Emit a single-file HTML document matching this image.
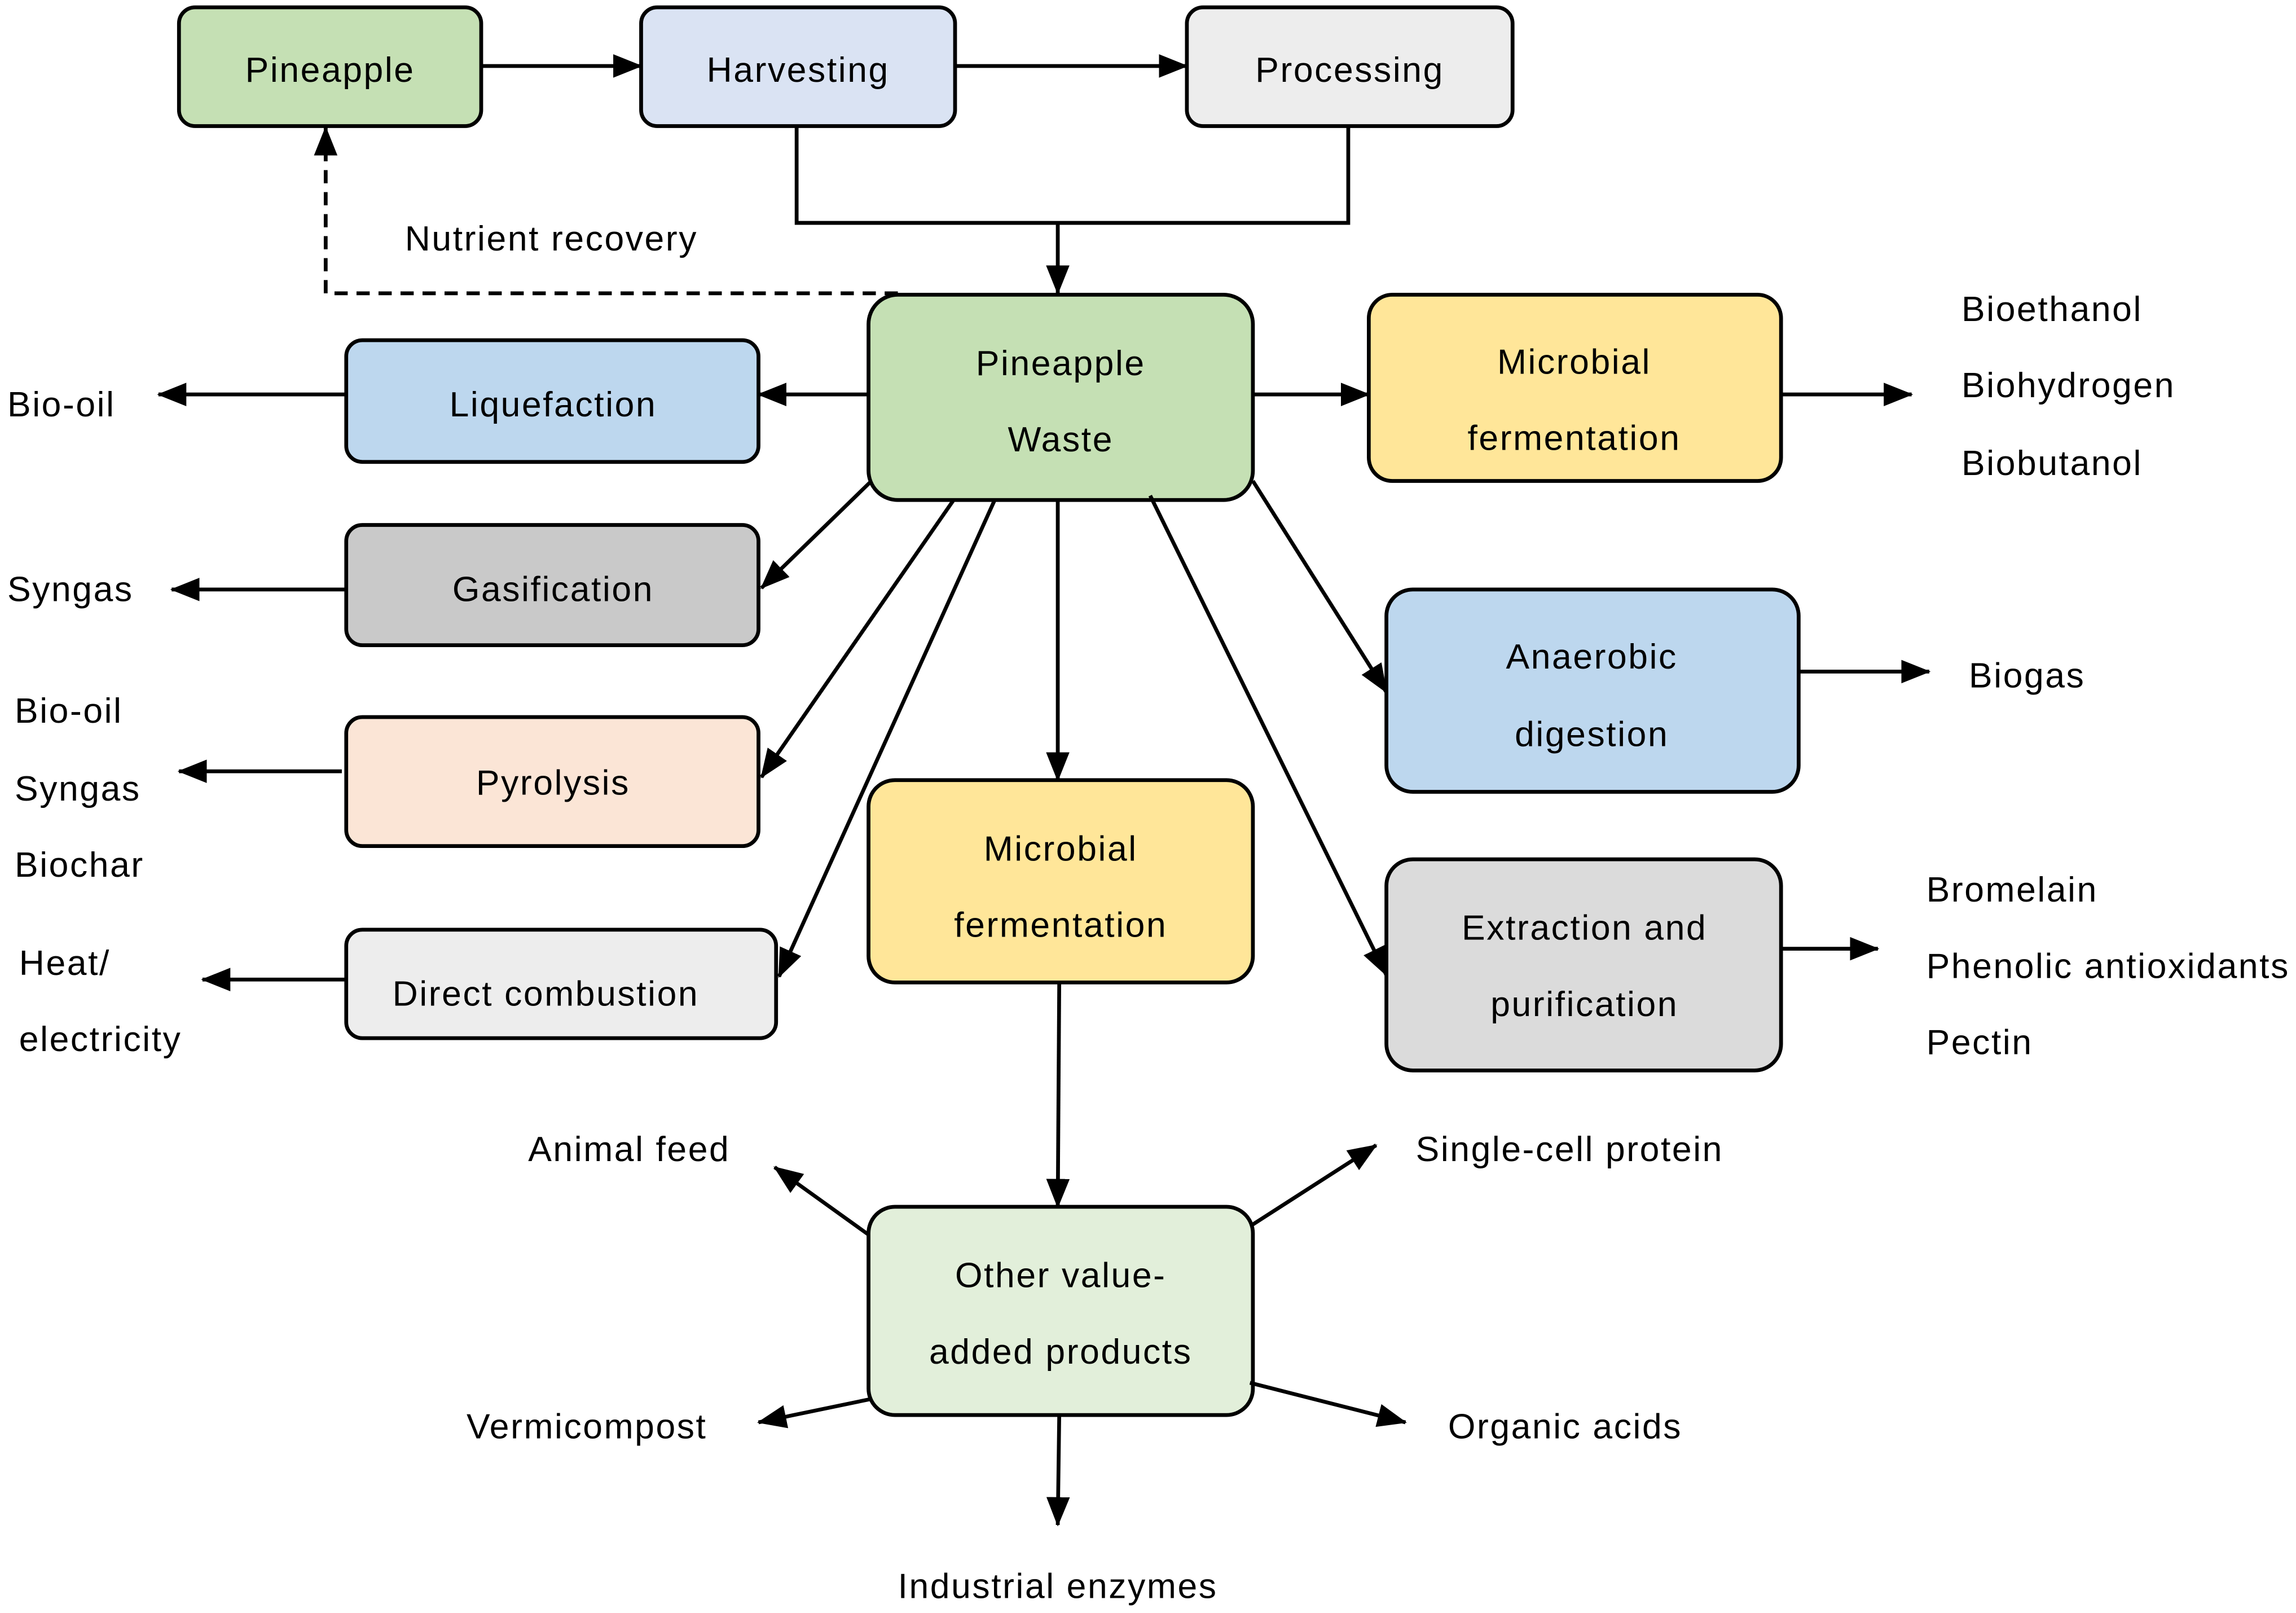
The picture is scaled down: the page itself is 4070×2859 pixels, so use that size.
<!DOCTYPE html>
<html><head><meta charset="utf-8"><style>
html,body{margin:0;padding:0;background:#fff}
svg{display:block}
text{font-family:"Liberation Sans",sans-serif;font-size:24px;letter-spacing:1px;fill:#000}
</style></head><body>
<svg width="4070" height="2859" viewBox="0 0 1565 1100" preserveAspectRatio="none" xmlns="http://www.w3.org/2000/svg">
<defs>
<marker id="a" markerUnits="userSpaceOnUse" markerWidth="20" markerHeight="18" refX="19" refY="8" orient="auto">
<path d="M0,0 L20,8 L0,16 Z" fill="#000"/>
</marker>
</defs>
<g stroke="#000" stroke-width="2.6">
<rect x="122" y="5" width="206" height="81" rx="11" fill="#c5e0b4"/>
<rect x="437" y="5" width="214" height="81" rx="11" fill="#dae3f3"/>
<rect x="809" y="5" width="222" height="81" rx="11" fill="#ededed"/>
<rect x="592" y="201" width="262" height="140" rx="20" fill="#c5e0b4"/>
<rect x="933" y="201" width="281" height="127" rx="16" fill="#ffe699"/>
<rect x="236" y="232" width="281" height="83" rx="11" fill="#bdd7ee"/>
<rect x="236" y="358" width="281" height="82" rx="11" fill="#c9c9c9"/>
<rect x="236" y="489" width="281" height="88" rx="11" fill="#fbe5d6"/>
<rect x="236" y="634" width="293" height="74" rx="11" fill="#ededed"/>
<rect x="592" y="532" width="262" height="138" rx="18" fill="#ffe699"/>
<rect x="945" y="402" width="281" height="138" rx="18" fill="#bdd7ee"/>
<rect x="945" y="586" width="269" height="144" rx="18" fill="#dbdbdb"/>
<rect x="592" y="823" width="262" height="142" rx="18" fill="#e2efda"/>
</g>
<g stroke="#000" stroke-width="2.6" fill="none">
<line x1="328" y1="45" x2="437" y2="45" marker-end="url(#a)"/>
<line x1="651" y1="45" x2="809" y2="45" marker-end="url(#a)"/>
<polyline points="543,86 543,152 919,152 919,86"/>
<line x1="721" y1="152" x2="721" y2="200" marker-end="url(#a)"/>
<polyline points="612,200 222,200 222,87" stroke-dasharray="9,6" marker-end="url(#a)"/>
<line x1="854" y1="269" x2="933" y2="269" marker-end="url(#a)"/>
<line x1="1214" y1="269" x2="1303" y2="269" marker-end="url(#a)"/>
<line x1="592" y1="269" x2="517" y2="269" marker-end="url(#a)"/>
<line x1="236" y1="269" x2="108" y2="269" marker-end="url(#a)"/>
<line x1="594" y1="328" x2="519" y2="401" marker-end="url(#a)"/>
<line x1="236" y1="402" x2="117" y2="402" marker-end="url(#a)"/>
<line x1="650" y1="341" x2="519" y2="530" marker-end="url(#a)"/>
<line x1="233" y1="526" x2="122" y2="526" marker-end="url(#a)"/>
<line x1="678" y1="341" x2="531" y2="666" marker-end="url(#a)"/>
<line x1="236" y1="668" x2="138" y2="668" marker-end="url(#a)"/>
<line x1="721" y1="341" x2="721" y2="532" marker-end="url(#a)"/>
<line x1="854" y1="328" x2="945" y2="472" marker-end="url(#a)"/>
<line x1="1226" y1="458" x2="1315" y2="458" marker-end="url(#a)"/>
<line x1="784" y1="338" x2="945" y2="665" marker-end="url(#a)"/>
<line x1="1214" y1="647" x2="1280" y2="647" marker-end="url(#a)"/>
<line x1="722" y1="670" x2="721" y2="823" marker-end="url(#a)"/>
<line x1="592" y1="842" x2="528" y2="796" marker-end="url(#a)"/>
<line x1="854" y1="835" x2="938" y2="781" marker-end="url(#a)"/>
<line x1="594" y1="954" x2="517" y2="970" marker-end="url(#a)"/>
<line x1="852" y1="943" x2="958" y2="970" marker-end="url(#a)"/>
<line x1="722" y1="965" x2="721" y2="1040" marker-end="url(#a)"/>
</g>
<g text-anchor="middle" dominant-baseline="central">
<text x="225" y="48">Pineapple</text>
<text x="544" y="48">Harvesting</text>
<text x="920" y="48">Processing</text>
<text x="723" y="248">Pineapple</text>
<text x="723" y="300">Waste</text>
<text x="1073" y="247">Microbial</text>
<text x="1073" y="299">fermentation</text>
<text x="377" y="276">Liquefaction</text>
<text x="377" y="402">Gasification</text>
<text x="377" y="534">Pyrolysis</text>
<text x="372" y="678">Direct combustion</text>
<text x="723" y="579">Microbial</text>
<text x="723" y="631">fermentation</text>
<text x="1085" y="448">Anaerobic</text>
<text x="1085" y="501">digestion</text>
<text x="1080" y="633">Extraction and</text>
<text x="1080" y="685">purification</text>
<text x="723" y="870">Other value-</text>
<text x="723" y="922">added products</text>
<text x="721" y="1082">Industrial enzymes</text>
</g>
<g dominant-baseline="central">
<text x="276" y="163">Nutrient recovery</text>
<text x="1337" y="211">Bioethanol</text>
<text x="1337" y="263">Biohydrogen</text>
<text x="1337" y="316">Biobutanol</text>
<text x="5" y="276">Bio-oil</text>
<text x="5" y="402">Syngas</text>
<text x="10" y="485">Bio-oil</text>
<text x="10" y="538">Syngas</text>
<text x="10" y="590">Biochar</text>
<text x="13" y="657">Heat/</text>
<text x="13" y="709">electricity</text>
<text x="1342" y="461">Biogas</text>
<text x="1313" y="607">Bromelain</text>
<text x="1313" y="659">Phenolic antioxidants</text>
<text x="1313" y="711">Pectin</text>
<text x="360" y="784">Animal feed</text>
<text x="965" y="784">Single-cell protein</text>
<text x="318" y="973">Vermicompost</text>
<text x="987" y="973">Organic acids</text>
</g>
</svg>
</body></html>
